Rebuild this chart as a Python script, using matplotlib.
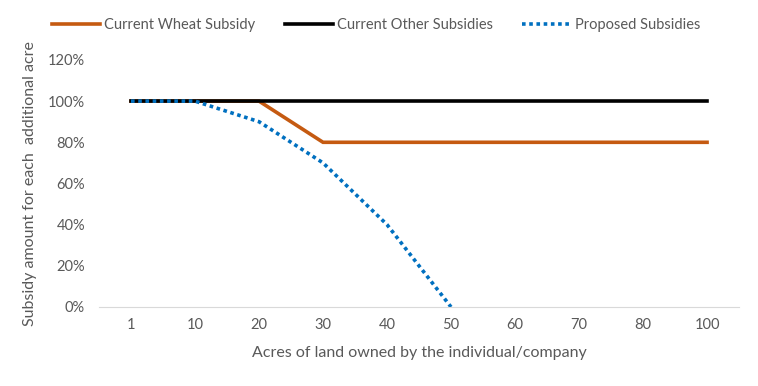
import matplotlib.pyplot as plt
import numpy as np

# Chart data
acres = ['1', '10', '20', '30', '40', '50', '60', '70', '80', '100']
wheat = [100, 100, 100, 80, 80, 80, 80, 80, 80, 80]
other = [100, 100, 100, 100, 100, 100, 100, 100, 100, 100]
proposed = [100, 100, 90, 70, 40, 0]

plt.rcParams['font.family'] = ['Lato', 'DejaVu Sans']
grey = '#595959'

fig = plt.figure(figsize=(7.58, 3.86), dpi=100)
ax = fig.add_axes([0.1306, 0.2047, 0.8444, 0.64])

x = np.arange(len(acres))
ax.plot(x, wheat, color='#C55A11', lw=2.6, label='Current Wheat Subsidy', solid_joinstyle='miter')
ax.plot(x, other, color='black', lw=2.6, label='Current Other Subsidies')
ax.plot(x[:len(proposed)], proposed, color='#0070C0', lw=2.6, linestyle=(0, (1, 1)),
        label='Proposed Subsidies')

ax.set_xlim(-0.5, len(acres) - 0.5)
ax.set_ylim(0, 120)
ax.set_xticks(x)
ax.set_xticklabels(acres)
ax.set_yticks(range(0, 121, 20))
ax.set_yticklabels([f'{v}%' for v in range(0, 121, 20)])
ax.tick_params(length=0, colors=grey, labelsize=10.5, pad=8)
ax.tick_params(axis='y', pad=10)

for s in ['top', 'right', 'left']:
    ax.spines[s].set_visible(False)
ax.spines['bottom'].set_color('#d9d9d9')

ax.set_xlabel('Acres of land owned by the individual/company', color=grey, fontsize=11.5, labelpad=10)
ax.set_ylabel('Subsidy amount for each  additional acre', color=grey, fontsize=11.5, labelpad=8)

fig.legend(loc='center', bbox_to_anchor=(0.496, 0.935), ncol=3, frameon=False,
           fontsize=10.5, labelcolor=grey, handlelength=3.3, handletextpad=0.3,
           columnspacing=2.0)

fig.savefig('out.png', dpi=100)
